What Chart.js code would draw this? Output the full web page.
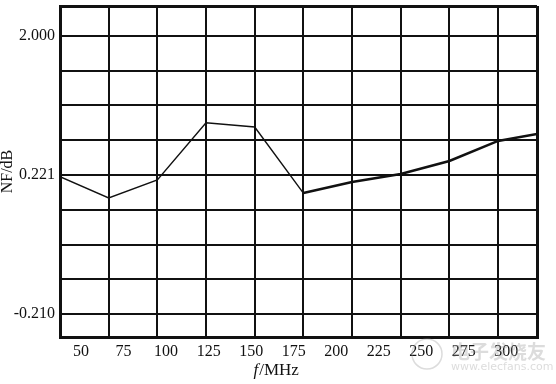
<!DOCTYPE html>
<html>
<head>
<meta charset="utf-8">
<script src="https://cdn.jsdelivr.net/npm/chart.js@4"></script>
<style>
html,body{margin:0;padding:0;background:#fff;}
#c{display:block;}
</style>
</head>
<body>
<canvas id="c" width="556" height="384"></canvas>
<script>
// ---- data ----
const freqMHz   = [50, 75, 100, 125, 150, 175, 200, 225, 250, 275, 295];
const nfLevel   = [3.95, 3.34, 3.86, 5.50, 5.38, 3.48, 3.80, 4.03, 4.40, 4.98, 5.18];
const xGridFreqs  = [75, 100, 125, 150, 175, 200, 225, 250, 275];
const xTickLabels = [50, 75, 100, 125, 150, 175, 200, 225, 250, 275, 300];
const yGridLevels = [0, 1, 2, 3, 4, 5, 6, 7, 8];
const yTickLevels = [0, 4, 8];
const yTickText   = ['-0.210', '0.221', '2.000'];
const xTitleItalic = 'f';
const xTitleRest   = '/MHz';
const yTitle       = 'NF/dB';
const watermarkCN  = '电子发烧友';
const watermarkURL = 'www.elecfans.com';

const X_MIN = 50, X_MAX = 295;
const XL_MIN = 37.6, XL_MAX = 318.1;
const Y_MIN = -0.66, Y_MAX = 8.86;
const INK = '#111';
const SERIF = '"Liberation Serif", "DejaVu Serif", serif';

const edgeWidth = (ctx, lo, hi) => {
  const v = ctx.tick ? ctx.tick.value : null;
  return (v === lo || v === hi) ? 3 : 2;
};

const extras = {
  id: 'extras',
  afterDraw(chart) {
    const ctx = chart.ctx, a = chart.chartArea;
    ctx.save();
    // x axis title with italic f
    const cx = (a.left + a.right) / 2 - 45;
    const by = a.bottom + 38;
    ctx.fillStyle = INK;
    ctx.textBaseline = 'alphabetic';
    ctx.textAlign = 'left';
    ctx.font = 'italic 17px ' + SERIF;
    ctx.fillText(xTitleItalic, cx, by);
    const w = ctx.measureText(xTitleItalic).width;
    ctx.font = '17px ' + SERIF;
    ctx.fillText(xTitleRest, cx + w + 1, by);
    // faint watermark
    ctx.globalAlpha = 0.35;
    ctx.fillStyle = '#9a9a9a';
    ctx.font = 'bold 19px "Noto Sans CJK SC", sans-serif';
    ctx.fillText(watermarkCN, a.right - 86, a.bottom + 22);
    ctx.font = '11px "DejaVu Sans", sans-serif';
    ctx.fillText(watermarkURL, a.right - 86, a.bottom + 33);
    ctx.strokeStyle = '#9a9a9a';
    ctx.lineWidth = 1.5;
    ctx.beginPath();
    ctx.arc(a.right - 110, a.bottom + 17, 15, 0, Math.PI * 2);
    ctx.stroke();
    ctx.restore();
  }
};

new Chart(document.getElementById('c'), {
  type: 'line',
  data: {
    datasets: [{
      data: freqMHz.map((f, i) => ({ x: f, y: nfLevel[i] })),
      xAxisID: 'x',
      yAxisID: 'y',
      borderColor: INK,
      borderWidth: 1.5,
      pointRadius: 0,
      tension: 0,
      fill: false,
      segment: {
        borderWidth: ctx => ctx.p0.parsed.x >= 175 ? 2.6 : 1.4
      }
    }]
  },
  options: {
    responsive: false,
    animation: false,
    devicePixelRatio: 1,
    layout: { padding: { left: 0, top: 6, right: 19, bottom: 0 } },
    plugins: { legend: { display: false }, tooltip: { enabled: false } },
    scales: {
      x: {
        type: 'linear',
        position: 'bottom',
        weight: 0,
        min: X_MIN, max: X_MAX,
        afterBuildTicks: s => { s.ticks = [X_MIN, ...xGridFreqs, X_MAX].map(v => ({ value: v })); },
        ticks: { display: false },
        grid: { color: INK, lineWidth: c => edgeWidth(c, X_MIN, X_MAX), drawTicks: false },
        border: { display: true, color: INK, width: 3 },
        afterFit: s => { s.height = 0; s.paddingLeft = 0; s.paddingRight = 0; }
      },
      x2: {
        type: 'linear',
        position: 'bottom',
        weight: 1,
        min: XL_MIN, max: XL_MAX,
        afterBuildTicks: s => { s.ticks = xTickLabels.map(v => ({ value: v })); },
        grid: { display: false, drawTicks: false },
        border: { display: false },
        ticks: {
          color: INK, font: { family: SERIF, size: 16 }, padding: 5,
          autoSkip: false, maxRotation: 0, minRotation: 0,
          callback: v => String(v)
        },
        afterFit: s => { s.height = 47; s.paddingLeft = 0; s.paddingRight = 0; }
      },
      y: {
        type: 'linear',
        min: Y_MIN, max: Y_MAX,
        afterBuildTicks: s => { s.ticks = [Y_MIN, ...yGridLevels, Y_MAX].map(v => ({ value: v })); },
        grid: { color: INK, lineWidth: c => edgeWidth(c, Y_MIN, Y_MAX), drawTicks: false },
        border: { display: true, color: INK, width: 3 },
        ticks: {
          color: INK, font: { family: SERIF, size: 16 }, padding: 5, autoSkip: false,
          callback: v => {
            const i = yTickLevels.findIndex(t => Math.abs(t - v) < 1e-6);
            return i >= 0 ? yTickText[i] : '';
          }
        },
        title: {
          display: true, text: yTitle, color: INK,
          font: { family: SERIF, size: 16, lineHeight: 1 }, padding: 0
        },
        afterFit: s => { s.width = 60; s.paddingTop = 0; s.paddingBottom = 0; }
      }
    }
  },
  plugins: [extras]
});
</script>
</body>
</html>
